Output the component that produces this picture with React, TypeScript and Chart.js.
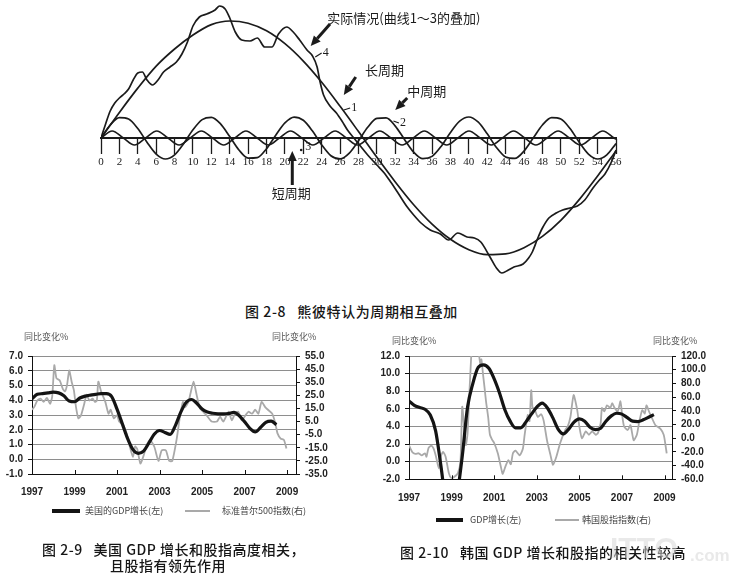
import React, { useEffect, useRef } from 'react';
import { Chart, registerables } from 'chart.js';

Chart.register(...registerables);

// ---------------- Figure 2-8 : superposed cycles ----------------
const longT = [0, 2, 4, 6, 8, 10, 12, 14, 16, 18, 20, 22, 24, 26, 28, 30, 32, 34, 36, 38, 40, 42, 44, 46, 48, 50, 52, 54, 56];
const longV = [0, 25.6, 49.9, 71.9, 89, 103, 113.4, 117, 114.8, 107.2, 94.3, 76.9, 55.7, 31.7, 6.4, -19.3, -43.9, -66.7, -86.1, -101.3, -111.7, -116.6, -115.9, -109.7, -98.4, -82.3, -61.6, -38, -12.9];

const midT = [0, 1, 2, 3, 4, 5, 6, 7, 8, 9, 10, 11, 12, 13, 14, 15, 16, 17, 18, 19, 20, 21, 22, 23, 24, 25, 26, 27, 28, 29, 30, 31, 32, 33, 34, 35, 36, 37, 38, 39, 40, 41, 42, 43, 44, 45, 46, 47, 48, 49, 50, 51, 52, 53, 54, 55, 56];
const midV = [0, 13, 20.4, 19, 9.5, -4.2, -16.1, -21, -16.9, -5.5, 8.2, 18.4, 20.7, 14.1, 1.4, -12, -20.1, -19.6, -10.7, 2.8, 15.1, 20.9, 17.7, 6.9, -6.9, -17.7, -20.9, -15.1, -2.8, 10.7, 19.6, 20.1, 11.9, -1.4, -14.1, -20.7, -18.4, -8.2, 5.6, 16.9, 21, 16.1, 4.2, -9.5, -19, -20.4, -13, 0, 13, 20.4, 19, 9.5, -4.2, -16.1, -21, -16.9, -5.5];

const shortT = [0, 1.21, 2.43, 3.64, 4.85, 6.06, 7.28, 8.49, 9.7, 10.91, 12.13, 13.34, 14.55, 15.76, 16.98, 18.19, 19.4, 20.61, 21.83, 23.04, 24.25, 25.46, 26.68, 27.89, 29.1, 30.31, 31.53, 32.74, 33.95, 35.16, 36.38, 37.59, 38.8, 40.01, 41.23, 42.44, 43.65, 44.86, 46.08, 47.29, 48.5, 49.71, 50.93, 52.14, 53.35, 54.56, 55.78, 56];
const shortV = [0, 7, 0, -7, 0, 7, 0, -7, 0, 7, 0, -7, 0, 7, 0, -7, 0, 7, 0, -7, 0, 7, 0, -7, 0, 7, 0, -7, 0, 7, 0, -7, 0, 7, 0, -7, 0, 7, 0, -7, 0, 7, 0, -7, 0, 7, 0, -1.3];

const actualT = [0, 0.5, 1, 1.5, 2, 2.5, 3, 3.5, 4, 4.5, 5, 5.6, 6.2, 6.8, 7.5, 8.2, 8.8, 9.4, 10, 10.7, 11.5, 12.4, 12.9, 13.5, 14, 14.6, 15.3, 16.2, 17, 17.8, 18.6, 19.3, 20.2, 20.9, 21.6, 22.4, 23, 23.5, 23.8, 24.2, 24.9, 25.6, 26.2, 26.8, 27.5, 28.2, 29, 30, 30.8, 31.5, 32.3, 33.3, 34, 34.8, 35.8, 36.9, 37.8, 38.8, 39.8, 40.6, 41.3, 42.3, 43, 43.6, 44.3, 44.9, 45.9, 46.5, 46.9, 47.5, 48, 48.7, 49.5, 50.2, 51, 51.8, 52.6, 53.5, 54.2, 54.8, 55.5, 56];
const actualV = [0, 14, 27, 35, 40, 44, 49, 58, 65, 66, 58, 53, 58, 66, 71, 76, 84, 96, 112, 121, 124, 128, 132, 129, 120, 106, 98, 97, 100, 91, 91, 104, 111, 106, 98, 88, 82, 71, 57, 43, 32, 25, 17, 8, 0, -8, -17, -27, -35, -44, -55, -69, -77, -85, -92, -96, -102, -95, -99, -100, -104, -119, -130, -135, -132, -129, -126, -120, -114, -100, -90, -80, -75, -72, -70, -68, -62, -50, -42, -36, -24, -12];

// annotation anchors (data units of the cycle chart)
const cycleNotes = [
  { text: '实际情况(曲线1～3的叠加)', t: 24.6, v: 120, center: false },
  { text: '长周期', t: 28.7, v: 68, center: false },
  { text: '中周期', t: 33.3, v: 47, center: false },
  { text: '短周期', t: 20.7, v: -55, center: true },
];
const cycleArrows = [
  { from: [24.9, 114], to: [22.8, 92] },
  { from: [27.7, 61], to: [26.4, 43] },
  { from: [33.3, 40], to: [32.0, 28] },
  { from: [20.8, -47], to: [20.8, -13] },
];
const cycleNumbers = [
  { text: '4', t: 24.1, v: 85, lead: [23.3, 81] },
  { text: '1', t: 27.2, v: 30, lead: [26.4, 28] },
  { text: '2', t: 32.5, v: 15, lead: [31.8, 17] },
  { text: '3', t: 22.2, v: -9, lead: null },
];

// ---------------- Figure 2-9 : US ----------------
const yearTicks = [1997, 1999, 2001, 2003, 2005, 2007, 2009];
const usGdpT = [1997, 1997.25, 1997.5, 1997.75, 1998, 1998.25, 1998.5, 1998.75, 1999, 1999.25, 1999.5, 1999.75, 2000, 2000.25, 2000.5, 2000.75, 2001, 2001.25, 2001.5, 2001.75, 2002, 2002.25, 2002.5, 2002.75, 2003, 2003.25, 2003.5, 2003.75, 2004, 2004.25, 2004.5, 2004.75, 2005, 2005.25, 2005.5, 2005.75, 2006, 2006.25, 2006.5, 2006.75, 2007, 2007.25, 2007.5, 2007.75, 2008, 2008.25, 2008.5];
const usGdpV = [4.1, 4.4, 4.45, 4.5, 4.55, 4.5, 4.3, 3.95, 3.9, 4.15, 4.28, 4.35, 4.4, 4.45, 4.45, 4.25, 3.4, 2.4, 1.4, 0.65, 0.4, 0.55, 1.1, 1.7, 1.95, 1.82, 1.68, 2.3, 3.2, 3.85, 4.05, 3.8, 3.4, 3.2, 3.12, 3.08, 3.07, 3.1, 3.18, 2.95, 2.55, 2.1, 1.85, 2.15, 2.5, 2.58, 2.35];
const spT = [1997.0, 1997.1, 1997.25, 1997.4, 1997.55, 1997.7, 1997.85, 1997.95, 1998.05, 1998.15, 1998.3, 1998.45, 1998.55, 1998.65, 1998.75, 1998.87, 1998.97, 1999.07, 1999.18, 1999.3, 1999.45, 1999.57, 1999.7, 1999.85, 1999.96, 2000.05, 2000.12, 2000.25, 2000.45, 2000.6, 2000.7, 2000.85, 2001.0, 2001.1, 2001.3, 2001.45, 2001.6, 2001.75, 2001.85, 2001.95, 2002.1, 2002.25, 2002.4, 2002.55, 2002.75, 2002.95, 2003.1, 2003.3, 2003.45, 2003.6, 2003.8, 2003.96, 2004.1, 2004.2, 2004.36, 2004.45, 2004.6, 2004.75, 2004.9, 2005.05, 2005.2, 2005.45, 2005.7, 2005.85, 2006.0, 2006.25, 2006.4, 2006.55, 2006.7, 2006.87, 2007.0, 2007.18, 2007.35, 2007.5, 2007.65, 2007.8, 2007.97, 2008.1, 2008.3, 2008.45, 2008.55, 2008.7, 2008.85, 2008.97];
const spV = [14, 16, 21, 22.5, 20, 23, 18.5, 24, 48, 38, 36.5, 30, 28, 33, 44, 35, 29, 16, 7.5, 9.5, 18, 25.5, 21, 22.5, 20, 21, 35.5, 28, 20, 11, 14, 7.5, 10, 5, 2, -4, -14, -22, -14, -16, -27, -21, -13, -9, -14, -25, -17, -17, -25, -25, -9, 8.7, 20, 16, 20, 26, 35.5, 25, 15, 12.5, 10, 5, 5, 8.7, 5, 12.5, 6, 11, 12.5, 6, 8.7, 12.5, 11, 14, 11, 20, 16, 14, 11, 3.5, -4, -8, -9, -15.5];

// ---------------- Figure 2-10 : Korea ----------------
const krGdpT = usGdpT;
const krGdpV = [6.9, 6.4, 6.15, 5.95, 5.3, 3.5, -0.5, -5, -7, -4, 0.6, 6.2, 8.9, 10.7, 11.0, 10.6, 9.4, 7.8, 5.9, 4.6, 3.85, 3.85, 4.55, 5.4, 6.2, 6.65, 6.1, 5.0, 3.7, 3.15, 3.7, 4.5, 4.85, 4.6, 3.9, 3.65, 3.8, 4.6, 5.2, 5.5, 5.4, 5.0, 4.6, 4.55, 4.75, 5.05, 5.35];
const krIdxT = [1997.0, 1997.15, 1997.3, 1997.45, 1997.6, 1997.75, 1997.82, 1997.92, 1998.05, 1998.15, 1998.27, 1998.4, 1998.5, 1998.6, 1998.72, 1998.87, 1998.98, 1999.1, 1999.3, 1999.42, 1999.5, 1999.6, 1999.67, 1999.75, 1999.85, 1999.93, 2000.0, 2000.15, 2000.3, 2000.35, 2000.4, 2000.47, 2000.55, 2000.62, 2000.72, 2000.8, 2000.9, 2001.0, 2001.17, 2001.33, 2001.4, 2001.53, 2001.67, 2001.78, 2001.88, 2002.0, 2002.2, 2002.35, 2002.43, 2002.58, 2002.66, 2002.74, 2002.8, 2002.9, 2003.05, 2003.2, 2003.32, 2003.48, 2003.64, 2003.76, 2003.92, 2004.1, 2004.34, 2004.45, 2004.58, 2004.73, 2004.9, 2005.0, 2005.12, 2005.3, 2005.45, 2005.6, 2005.77, 2005.87, 2006.0, 2006.06, 2006.17, 2006.3, 2006.45, 2006.54, 2006.66, 2006.8, 2006.93, 2007.0, 2007.1, 2007.27, 2007.4, 2007.55, 2007.7, 2007.8, 2007.95, 2008.07, 2008.15, 2008.27, 2008.4, 2008.57, 2008.8, 2008.96, 2009.03, 2009.1];
const krIdxV = [-10, -20, -23, -22, -25, -22, -27, -14, -11, -15, -27, -44, -26, -20, -27, -51, -58, -57, -51, -32, 46, 12, -10, 7, 75, 125, 160, 150, 119, 108, 115, 95, 73, 53, 30, 5, -2, -7, -22, -44, -52, -41, -32, -38, -22, -18, -25, -15, 5, 34, 25, 70, 45, 42, 31, 35, 26, -3, -24, -39, -27, -7, 12, 17, 31, 63, 41, 17, 0, 10, 5, 10, 5, 7.5, 22, 44, 39, 48, 44, 51, 44, 39, 54, 36, 17, 12, 19, -3, 5, 22, 41, 36, 48, 39, 30, 19, 14, 5, -7, -22];

// ---------------- styling ----------------
const INK = '#1b1b1b';
const SANS = '"Liberation Sans", Arial, sans-serif';
const CJK = '"Noto Sans CJK SC", "Noto Sans", sans-serif';
const SERIF = '"Liberation Serif", "DejaVu Serif", serif';
const AXIS_FONT = { family: SANS, size: 10, weight: 'bold' as const };

const pts = (xs: number[], ys: number[]) => xs.map((x, i) => ({ x, y: ys[i] }));

function drawArrow(ctx: CanvasRenderingContext2D, x1: number, y1: number, x2: number, y2: number) {
  const a = Math.atan2(y2 - y1, x2 - x1);
  const head = 10, hw = 4.5;
  const bx = x2 - head * Math.cos(a), by = y2 - head * Math.sin(a);
  ctx.lineWidth = 3;
  ctx.beginPath(); ctx.moveTo(x1, y1); ctx.lineTo(bx, by); ctx.stroke();
  ctx.beginPath();
  ctx.moveTo(x2, y2);
  ctx.lineTo(bx + hw * Math.sin(a), by - hw * Math.cos(a));
  ctx.lineTo(bx - hw * Math.sin(a), by + hw * Math.cos(a));
  ctx.closePath(); ctx.fill();
}

const cycleNotesPlugin = {
  id: 'cycleNotes',
  afterDatasetsDraw(chart: any) {
    const { ctx } = chart;
    const sx = chart.scales.x, sy = chart.scales.y;
    const px = (t: number) => sx.getPixelForValue(t);
    const py = (v: number) => sy.getPixelForValue(v);
    ctx.save();
    ctx.fillStyle = INK; ctx.strokeStyle = INK;
    ctx.textBaseline = 'middle';
    ctx.font = `13px ${CJK}`;
    for (const n of cycleNotes) {
      ctx.textAlign = n.center ? 'center' : 'left';
      ctx.fillText(n.text, px(n.t), py(n.v));
    }
    for (const a of cycleArrows) drawArrow(ctx, px(a.from[0]), py(a.from[1]), px(a.to[0]), py(a.to[1]));
    ctx.font = `12px ${SERIF}`;
    ctx.textAlign = 'left';
    ctx.lineWidth = 1.2;
    for (const n of cycleNumbers) {
      if (n.lead) {
        ctx.beginPath(); ctx.moveTo(px(n.lead[0]), py(n.lead[1])); ctx.lineTo(px(n.t) - 1, py(n.v)); ctx.stroke();
      } else {
        ctx.beginPath(); ctx.arc(px(n.t) - 4, py(n.v) + 3, 1.3, 0, Math.PI * 2); ctx.fill();
      }
      ctx.fillText(n.text, px(n.t), py(n.v));
    }
    ctx.restore();
  },
};

function cycleConfig(): any {
  const line = (xs: number[], ys: number[]) => ({
    data: pts(xs, ys), borderColor: INK, borderWidth: 1.7, pointRadius: 0,
    cubicInterpolationMode: 'monotone', fill: false,
  });
  return {
    type: 'line',
    data: { datasets: [line(longT, longV), line(midT, midV), line(shortT, shortV), line(actualT, actualV)] },
    options: {
      responsive: false, animation: false, events: [],
      layout: { padding: { left: 101, right: 116, top: 0, bottom: 0 } },
      plugins: { legend: { display: false }, tooltip: { enabled: false } },
      scales: {
        x: {
          type: 'linear', min: 0, max: 56, position: { y: 0 },
          ticks: { stepSize: 2, autoSkip: false, maxRotation: 0, padding: 3, color: '#222', font: { family: SERIF, size: 11 }, callback: (v: any) => String(v) },
          grid: { drawOnChartArea: false, tickLength: 15, tickColor: INK, tickWidth: 1.3 },
          border: { color: INK, width: 2 },
        },
        y: { type: 'linear', display: false, min: -162, max: 138 },
      },
    },
    plugins: [cycleNotesPlugin],
  };
}

const innerTicksPlugin = {
  id: 'innerTicks',
  afterDatasetsDraw(chart: any) {
    const { ctx, chartArea } = chart;
    const sx = chart.scales.x;
    ctx.save(); ctx.strokeStyle = '#111'; ctx.lineWidth = 1;
    yearTicks.slice(1).forEach((v) => {
      const p = Math.round(sx.getPixelForValue(v)) + 0.5;
      ctx.beginPath(); ctx.moveTo(p, chartArea.bottom); ctx.lineTo(p, chartArea.bottom - 4); ctx.stroke();
    });
    ctx.restore();
  },
};

type Dual = {
  gdpT: number[]; gdpV: number[]; idxT: number[]; idxV: number[];
  leftMin: number; leftMax: number; leftStep: number;
  rightMin: number; rightMax: number; rightStep: number;
  xMax: number; leftW: number; rightW: number; xH: number; xPad: number;
};

function dualConfig(d: Dual): any {
  return {
    type: 'line',
    data: {
      datasets: [
        { data: pts(d.gdpT, d.gdpV), yAxisID: 'y', borderColor: '#141414', borderWidth: 3.2, pointRadius: 0, cubicInterpolationMode: 'monotone' },
        { data: pts(d.idxT, d.idxV), yAxisID: 'y1', borderColor: '#a9a9a9', borderWidth: 1.8, pointRadius: 0, tension: 0.2 },
      ],
    },
    options: {
      responsive: false, animation: false, events: [],
      layout: { padding: { top: 26, left: 0, right: 0, bottom: 0 } },
      plugins: { legend: { display: false }, tooltip: { enabled: false } },
      scales: {
        x: {
          type: 'linear', min: 1997, max: d.xMax,
          afterBuildTicks: (s: any) => { s.ticks = yearTicks.map((v) => ({ value: v })); },
          afterFit: (s: any) => { s.height = d.xH; },
          ticks: { autoSkip: false, maxRotation: 0, padding: d.xPad, color: '#222', font: AXIS_FONT, callback: (v: any) => String(v) },
          grid: { drawOnChartArea: false, drawTicks: false },
          border: { color: '#111', width: 1 },
        },
        y: {
          position: 'left', min: d.leftMin, max: d.leftMax,
          afterFit: (s: any) => { s.width = d.leftW; },
          ticks: { stepSize: d.leftStep, autoSkip: false, padding: 5, color: '#222', font: AXIS_FONT, callback: (v: any) => Number(v).toFixed(1) },
          grid: { color: '#8e8e8e', lineWidth: 1, tickLength: 4, tickColor: '#111' },
          border: { color: '#111', width: 1 },
        },
        y1: {
          position: 'right', min: d.rightMin, max: d.rightMax,
          afterFit: (s: any) => { s.width = d.rightW; },
          ticks: { stepSize: d.rightStep, autoSkip: false, padding: 5, color: '#222', font: AXIS_FONT, callback: (v: any) => Number(v).toFixed(1) },
          grid: { drawOnChartArea: false, tickLength: 4, tickColor: '#111' },
          border: { color: '#111', width: 1 },
        },
      },
    },
    plugins: [innerTicksPlugin],
  };
}

function Txt(p: { x: number; y: number; size: number; text: string; family?: string; color?: string; weight?: number; center?: boolean; spacing?: number }) {
  const style: React.CSSProperties = {
    position: 'absolute', left: p.x, top: p.y - p.size * 0.6, fontSize: p.size, lineHeight: `${p.size * 1.2}px`,
    fontFamily: p.family || CJK, color: p.color || '#222', fontWeight: p.weight || 400, whiteSpace: 'pre',
    letterSpacing: p.spacing || 0, transform: p.center ? 'translateX(-50%)' : undefined,
  };
  return <div style={style}>{p.text}</div>;
}

function Swatch(p: { x: number; y: number; w: number; h: number; color: string }) {
  return <div style={{ position: 'absolute', left: p.x, top: p.y - p.h / 2, width: p.w, height: p.h, background: p.color }} />;
}

export default function App() {
  const topRef = useRef<HTMLCanvasElement>(null);
  const usRef = useRef<HTMLCanvasElement>(null);
  const krRef = useRef<HTMLCanvasElement>(null);

  useEffect(() => {
    const charts: Chart[] = [];
    if (topRef.current) charts.push(new Chart(topRef.current, cycleConfig()));
    if (usRef.current) charts.push(new Chart(usRef.current, dualConfig({
      gdpT: usGdpT, gdpV: usGdpV, idxT: spT, idxV: spV,
      leftMin: -1, leftMax: 7, leftStep: 1, rightMin: -35, rightMax: 55, rightStep: 10,
      xMax: 2009.42, leftW: 32, rightW: 70, xH: 56, xPad: 12,
    })));
    if (krRef.current) charts.push(new Chart(krRef.current, dualConfig({
      gdpT: krGdpT, gdpV: krGdpV, idxT: krIdxT, idxV: krIdxV,
      leftMin: -2, leftMax: 12, leftStep: 2, rightMin: -60, rightMax: 120, rightStep: 20,
      xMax: 2009.35, leftW: 43, rightW: 60, xH: 50.7, xPad: 13,
    })));
    return () => charts.forEach((c) => c.destroy());
  }, []);

  return (
    <div style={{ position: 'absolute', left: 0, top: 0, width: 732, height: 582, background: '#fff', overflow: 'hidden' }}>
      <canvas ref={topRef} width={732} height={300} style={{ position: 'absolute', left: 0, top: 0 }} />
      <Txt x={245} y={311} size={14} text="图 2-8   熊彼特认为周期相互叠加" color="#161616" weight={500} spacing={0.6} />

      <canvas ref={usRef} width={366} height={200} style={{ position: 'absolute', left: 0, top: 330 }} />
      <Txt x={24} y={337} size={9} text="同比变化%" color="#555" />
      <Txt x={272} y={337} size={9} text="同比变化%" color="#555" />
      <Swatch x={52} y={511} w={28} h={3.2} color="#141414" />
      <Txt x={85} y={511} size={9} text="美国的GDP增长(左)" color="#444" />
      <Swatch x={185} y={511} w={25} h={1.6} color="#a9a9a9" />
      <Txt x={222} y={511} size={9} text="标准普尔500指数(右)" color="#444" />
      <Txt x={42} y={549} size={14} text="图 2-9   美国 GDP 增长和股指高度相关，" color="#161616" weight={500} spacing={0.5} />
      <Txt x={110} y={565} size={14} text="且股指有领先作用" color="#161616" weight={500} spacing={0.5} />

      <canvas ref={krRef} width={366} height={200} style={{ position: 'absolute', left: 366, top: 330 }} />
      <Txt x={392} y={341} size={9} text="同比变化%" color="#555" />
      <Txt x={653} y={341} size={9} text="同比变化%" color="#555" />
      <Swatch x={436} y={520} w={27} h={3.2} color="#141414" />
      <Txt x={470} y={520} size={9} text="GDP增长(左)" color="#444" />
      <Swatch x={555} y={520} w={24} h={1.6} color="#a9a9a9" />
      <Txt x={582} y={520} size={9} text="韩国股指指数(右)" color="#444" />
      <Txt x={400} y={552} size={14} text="图 2-10   韩国 GDP 增长和股指的相关性较高" color="#161616" weight={500} spacing={0.5} />
      <Txt x={610} y={548} size={30} text="ITTO" family={SANS} weight={700} color="rgba(215,215,215,0.55)" />
      <Txt x={690} y={556} size={17} text=".com" family={SANS} weight={700} color="rgba(215,215,215,0.55)" />
    </div>
  );
}
